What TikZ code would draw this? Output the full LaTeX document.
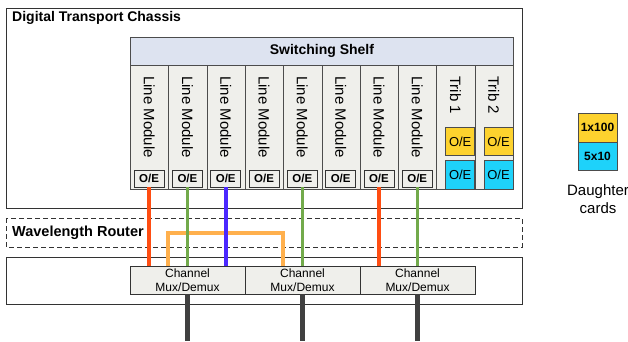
\documentclass[tikz,border=0pt]{standalone}
\usepackage{fontspec}
\setmainfont{Liberation Sans}
\usetikzlibrary{positioning}
\definecolor{shelfblue}{HTML}{DDE3F0}
\definecolor{modgray}{HTML}{EFEFEB}
\definecolor{cardyellow}{HTML}{FDD22E}
\definecolor{cardcyan}{HTML}{1ED2FA}
\definecolor{redfibre}{HTML}{FF4D12}
\definecolor{greenfibre}{HTML}{72AA4B}
\definecolor{bluefibre}{HTML}{4B28FF}
\definecolor{orangefibre}{HTML}{FFB04D}
\definecolor{trunkgray}{HTML}{404040}
\tikzset{
  module/.style={draw=black!70, fill=modgray, line width=0.8pt, minimum width=38.3pt,
    minimum height=124pt, inner sep=0pt, anchor=north west},
  modlabel/.style={rotate=-90, anchor=west, inner sep=0pt, font=\fontsize{15}{18}\selectfont},
  oebox/.style={draw=black!80, fill=modgray, line width=0.8pt, minimum width=30pt,
    minimum height=17pt, inner sep=0pt, font=\bfseries\fontsize{11.5}{13}\selectfont},
  tribbox/.style={draw=black!70, line width=0.8pt, minimum width=29pt, minimum height=28.5pt,
    inner sep=0pt, font=\fontsize{13}{15}\selectfont},
  muxbox/.style={draw=black!80, fill=modgray, line width=0.8pt, minimum width=115pt,
    minimum height=28pt, inner sep=0pt, align=center, font=\fontsize{12}{14}\selectfont},
  fibre/.style={line width=3.5pt},
  trunk/.style={line width=4.5pt, trunkgray},
}
\begin{document}
\begin{tikzpicture}[x=1pt,y=-1pt]
\useasboundingbox (0,0) rectangle (628,341);

% chassis, router and mux shelf
\draw[black!80, line width=0.9pt] (6,8) rectangle (522,208);
\node[anchor=west, inner sep=0pt, font=\bfseries\fontsize{14}{16}\selectfont] (chassis) at (12,18) {Digital Transport Chassis};

\draw[black!80, line width=0.9pt, dash pattern=on 5pt off 3pt] (6,218) rectangle (522,247);
\node[anchor=west, inner sep=0pt, font=\bfseries\fontsize{14.5}{16}\selectfont] (router) at (12,233) {Wavelength Router};

\draw[black!80, line width=0.9pt] (6,257) rectangle (522,304);

% switching shelf
\node[draw=black!70, fill=shelfblue, line width=0.8pt, anchor=north west, minimum width=383pt,
  minimum height=28pt, inner sep=0pt, font=\bfseries\fontsize{14}{16}\selectfont] (shelf) at (130,37) {Switching Shelf};

\node[module] (m1) at (130,65) {};
\node[module] (m2) at (168.3,65) {};
\node[module] (m3) at (206.6,65) {};
\node[module] (m4) at (244.9,65) {};
\node[module] (m5) at (283.2,65) {};
\node[module] (m6) at (321.5,65) {};
\node[module] (m7) at (359.8,65) {};
\node[module] (m8) at (398.1,65) {};
\node[module] (m9) at (436.4,65) {};
\node[module] (m10) at (474.7,65) {};

\node[modlabel] (l1) at (149.15,76) {Line Module};
\node[modlabel] (l2) at (187.45,76) {Line Module};
\node[modlabel] (l3) at (225.75,76) {Line Module};
\node[modlabel] (l4) at (264.05,76) {Line Module};
\node[modlabel] (l5) at (302.35,76) {Line Module};
\node[modlabel] (l6) at (340.65,76) {Line Module};
\node[modlabel] (l7) at (378.95,76) {Line Module};
\node[modlabel] (l8) at (417.25,76) {Line Module};
\node[modlabel] (t1) at (455.55,76) {Trib 1};
\node[modlabel] (t2) at (493.85,76) {Trib 2};

\node[oebox] (oe1) at (149.15,178.5) {O/E};
\node[oebox] (oe2) at (187.45,178.5) {O/E};
\node[oebox] (oe3) at (225.75,178.5) {O/E};
\node[oebox] (oe4) at (264.05,178.5) {O/E};
\node[oebox] (oe5) at (302.35,178.5) {O/E};
\node[oebox] (oe6) at (340.65,178.5) {O/E};
\node[oebox] (oe7) at (378.95,178.5) {O/E};
\node[oebox] (oe8) at (417.25,178.5) {O/E};

\node[tribbox, fill=cardyellow] (ty1) at (460.2,141.5) {O/E};
\node[tribbox, fill=cardcyan] (tc1) at (460.2,175) {O/E};
\node[tribbox, fill=cardyellow] (ty2) at (498.5,141.5) {O/E};
\node[tribbox, fill=cardcyan] (tc2) at (498.5,175) {O/E};

% mux/demux
\node[muxbox] (mux1) at (187.5,280) {Channel\\Mux/Demux};
\node[muxbox] (mux2) at (302.5,280) {Channel\\Mux/Demux};
\node[muxbox] (mux3) at (417.5,280) {Channel\\Mux/Demux};

% fibres
\coordinate (ra) at (168,266);
\coordinate (rb) at (283,266);
\draw[fibre, orangefibre] (ra) -- (168,233) -- (283,233) -- (rb);
\draw[fibre, redfibre] (oe1.south) -- (oe1.south |- mux1.north);
\draw[fibre, greenfibre] (oe2.south) -- (oe2.south |- mux1.north);
\draw[fibre, bluefibre] (oe3.south) -- (oe3.south |- mux1.north);
\draw[fibre, greenfibre] (oe5.south) -- (oe5.south |- mux2.north);
\draw[fibre, redfibre] (oe7.south) -- (oe7.south |- mux3.north);
\draw[fibre, greenfibre] (oe8.south) -- (oe8.south |- mux3.north);

\coordinate (out1) at (187.5,341);
\coordinate (out2) at (302.5,341);
\coordinate (out3) at (417.5,341);
\draw[trunk] (mux1.south) -- (out1);
\draw[trunk] (mux2.south) -- (out2);
\draw[trunk] (mux3.south) -- (out3);

% daughter cards
\node[draw=black!70, line width=0.8pt, fill=cardyellow, minimum width=39pt, minimum height=29pt,
  inner sep=0pt, font=\bfseries\fontsize{12}{14}\selectfont] (dc1) at (597.5,127.5) {1x100};
\node[draw=black!70, line width=0.8pt, fill=cardcyan, minimum width=39pt, minimum height=28pt,
  inner sep=0pt, font=\bfseries\fontsize{12}{14}\selectfont, below=0pt of dc1] (dc2) {5x10};
\node[align=center, inner sep=0pt, font=\fontsize{15}{18}\selectfont] (dclabel) at (598,199) {Daughter\\cards};
\end{tikzpicture}
\end{document}
